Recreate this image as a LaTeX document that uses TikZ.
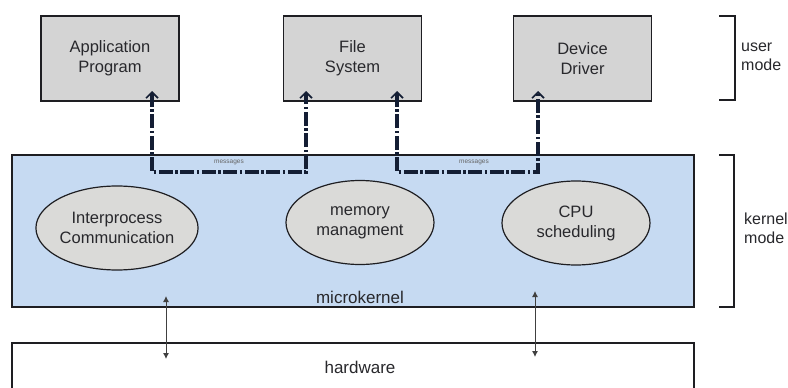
\documentclass[tikz,border=0pt]{standalone}
\usepackage{fontspec}
\setmainfont{Liberation Sans}
\usetikzlibrary{arrows.meta,shapes.geometric}
\definecolor{boxgray}{RGB}{212,212,212}
\definecolor{ellgray}{RGB}{218,218,216}
\definecolor{kernblue}{RGB}{198,218,242}
\definecolor{edge}{RGB}{30,30,34}
\definecolor{msgline}{RGB}{20,30,52}
\definecolor{ink}{RGB}{40,40,44}
\tikzset{
  userbox/.style={draw=edge, line width=1.3pt, fill=boxgray, minimum width=138pt,
    minimum height=85pt, align=center, font=\fontsize{16.5}{20}\selectfont, text=ink},
  service/.style={ellipse, draw=edge, line width=1.2pt, fill=ellgray, minimum width=148pt,
    minimum height=84pt, inner sep=0pt, align=center, font=\fontsize{16.5}{20}\selectfont, text=ink},
  layer/.style={draw=edge, line width=1.3pt, minimum width=682pt, inner sep=0pt},
  msgtip/.tip={Straight Barb[length=6pt,width=12pt,line width=1.6pt]},
  msg/.style={draw=msgline, line width=3.2pt, dash pattern=on 14pt off 2.5pt on 2.5pt off 2.5pt,
    msgtip-msgtip},
  msglabel/.style={font=\fontsize{6.5}{7}\selectfont, text=black!60},
  hwlink/.style={draw=black!75, line width=0.9pt, {Latex[length=6pt,width=6pt]}-{Latex[length=6pt,width=6pt]}},
  bracket/.style={draw=edge, line width=1.3pt},
  sidelabel/.style={align=left, anchor=west, font=\fontsize{16}{19}\selectfont, text=ink, inner sep=0pt},
  plain/.style={font=\fontsize{17}{20}\selectfont, text=ink}
}
\begin{document}
\begin{tikzpicture}[x=1pt,y=-1pt]
  \clip (0,0) rectangle (788,388);
  \fill[white] (0,0) rectangle (788,388);

  % user-mode servers
  \node[userbox] (app) at (110,58.5) {Application\\Program};
  \node[userbox] (fs)  at (352.5,58.5) {File\\System};
  \node[userbox] (dd)  at (582.5,58.5) {Device\\Driver};

  % microkernel layer and hardware layer
  \node[layer, fill=kernblue, minimum height=152pt] (kern) at (353,231) {};
  \node[layer, fill=white, minimum height=80pt] (hw) at (353,383) {};
  \node[plain] (mk) at (360,297) {microkernel};
  \node[plain] (hwl) at (360,367) {hardware};

  % kernel services
  \node[service] (ipc) at (117,228) {Interprocess\\Communication};
  \node[service] (mem) at (360,222.5) {memory\\managment};
  \node[service] (cpu) at (576,223) {CPU\\scheduling};

  % message paths between servers through the kernel
  \coordinate (a0) at (152,91);
  \coordinate (a1) at (152,172);
  \coordinate (a2) at (306,172);
  \coordinate (a3) at (306,91);
  \coordinate (b0) at (397,91);
  \coordinate (b1) at (397,172);
  \coordinate (b2) at (538,172);
  \coordinate (b3) at (538,91);
  \draw[msg] (a0) -- (a1) -- (a2) -- (a3);
  \draw[msg] (b0) -- (b1) -- (b2) -- (b3);
  \node[msglabel] (m1) at (229,162) {messages};
  \node[msglabel] (m2) at (474,162) {messages};

  % kernel <-> hardware
  \coordinate (h1t) at (166,296);
  \coordinate (h1b) at (166,359);
  \coordinate (h2t) at (535,291);
  \coordinate (h2b) at (535,357);
  \draw[hwlink] (h1t) -- (h1b);
  \draw[hwlink] (h2t) -- (h2b);

  % mode brackets
  \draw[bracket] (719,16) -- (735,16) -- (735,100) -- (719,100);
  \draw[bracket] (719,155) -- (734,155) -- (734,307) -- (719,307);
  \node[sidelabel] (um) at (741,57) {user\\mode};
  \node[sidelabel] (km) at (744,228) {kernel\\mode};
\end{tikzpicture}
\end{document}
